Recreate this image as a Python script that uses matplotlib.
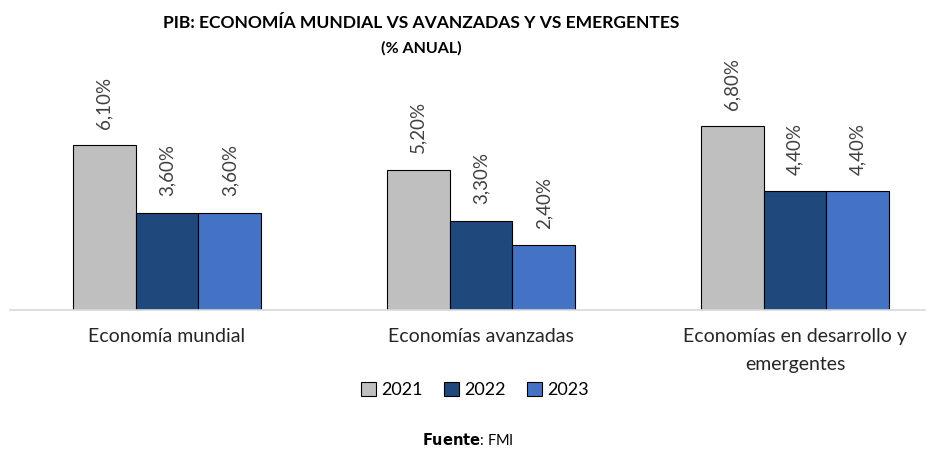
import numpy as np
import matplotlib.pyplot as plt
from matplotlib.patches import Patch

# ------------------ Data ------------------
categories = ["Economía mundial", "Economías avanzadas", "Economías en desarrollo y\nemergentes"]
years = ["2021", "2022", "2023"]
val_2021 = [6.1, 5.2, 6.8]
val_2022 = [3.6, 3.3, 4.4]
val_2023 = [3.6, 2.4, 4.4]
colors = ["#BFBFBF", "#1F497D", "#4472C4"]

plt.rcParams['font.family'] = ['Lato', 'DejaVu Sans']

fig = plt.figure(figsize=(9.41, 4.5), dpi=100)
# axes: baseline at y=310px, spans x 10..925 px
ax = fig.add_axes([10 / 941, 1 - 310 / 450, 915 / 941, 216 / 450])

x = np.arange(len(categories))
width = 0.2
series = [val_2021, val_2022, val_2023]
for i, vals in enumerate(series):
    pos = x + (i - 1) * width
    bars = ax.bar(pos, vals, width, color=colors[i], edgecolor="black", linewidth=0.8, zorder=2)
    for b, v in zip(bars, vals):
        ax.annotate(f"{v:.2f}%".replace(".", ","), (b.get_x() + b.get_width() / 2, v),
                    xytext=(0, 12), textcoords="offset points", rotation=90,
                    ha="center", va="bottom", fontsize=13.5,
                    color="#404040", annotation_clip=False)

ax.set_xlim(-0.5, -0.5 + 915 / 314)
ax.set_ylim(0, 8)
ax.set_yticks([])
ax.set_xticks(x)
ax.set_xticklabels(categories, fontsize=14, color="#262626", linespacing=1.75)
ax.tick_params(axis="x", length=0, pad=13)
for s in ["top", "right", "left"]:
    ax.spines[s].set_visible(False)
ax.spines["bottom"].set_color("#D9D9D9")
ax.spines["bottom"].set_linewidth(1.2)

# Title
fig.text(421 / 941, 1 - 23 / 450, "PIB: ECONOMÍA MUNDIAL VS AVANZADAS Y VS EMERGENTES",
         ha="center", va="center", fontsize=12.6, fontweight="bold", color="black")
fig.text(421 / 941, 1 - 48 / 450, "(% ANUAL)", ha="center", va="center",
         fontsize=11.5, fontweight="bold", color="black")

# Legend
handles = [Patch(facecolor=c, edgecolor="black", linewidth=0.8, label=y) for c, y in zip(colors, years)]
fig.legend(handles=handles, loc="center", bbox_to_anchor=(475 / 941, 1 - 390 / 450), ncol=3,
           frameon=False, fontsize=13, handlelength=0.8, handleheight=0.8,
           handletextpad=0.3, columnspacing=1.2)

# Source
fig.text(468 / 941, 1 - 440 / 450, r"$\bf{Fuente}$: FMI", ha="center", va="center",
         fontsize=10.5, color="black")

fig.savefig("out.png", dpi=100)
